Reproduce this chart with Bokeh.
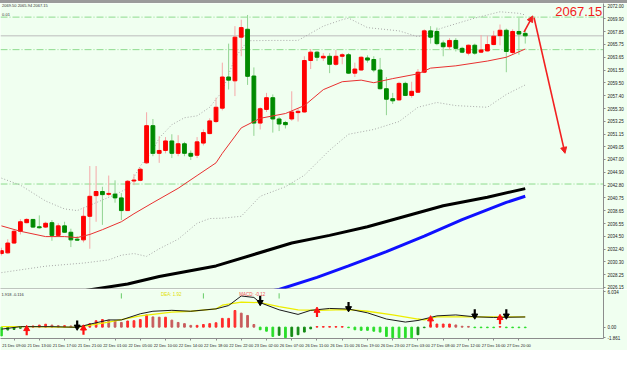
from bokeh.plotting import figure
from bokeh.models import (ColumnDataSource, FixedTicker, Label, Arrow, NormalHead, Span,
                          Div, Range1d, PrintfTickFormatter)
from bokeh.layouts import column
from bokeh.embed import file_html
from bokeh.resources import INLINE

# ---------------- data ----------------
opens = [2031.67, 2031.78, 2033.38, 2035.30, 2036.70, 2037.23, 2036.03, 2035.98, 2036.70, 2034.63,
         2036.18, 2035.14, 2034.01, 2033.90, 2037.74, 2041.11, 2041.78, 2041.32, 2041.36, 2040.74,
         2038.67, 2043.49, 2043.60, 2046.45, 2052.51, 2048.00, 2048.47, 2050.02, 2048.00, 2049.56,
         2048.00, 2047.69, 2049.67, 2051.22, 2053.18, 2055.36, 2060.44, 2059.82, 2066.93, 2068.22,
         2060.60, 2052.93, 2055.16, 2057.07, 2053.60, 2053.03, 2053.60, 2054.64, 2054.74, 2063.13,
         2064.49, 2063.55, 2063.82, 2062.51, 2063.82, 2064.07, 2061.07, 2061.58, 2063.55, 2063.29,
         2061.58, 2058.53, 2056.91, 2056.71, 2059.40, 2057.44, 2057.96, 2061.22, 2067.96, 2067.86,
         2065.99, 2065.37, 2066.40, 2065.11, 2064.33, 2065.62, 2064.49, 2064.69, 2065.73, 2067.18,
         2068.06, 2064.44, 2067.86, 2067.55]
highs = [2032.61, 2034.01, 2035.56, 2037.27, 2037.43, 2037.27, 2037.89, 2036.85, 2037.12, 2036.60,
         2036.85, 2035.72, 2034.52, 2039.19, 2045.93, 2045.93, 2042.56, 2044.38, 2043.60, 2041.52,
         2043.65, 2044.63, 2045.67, 2054.69, 2053.60, 2050.80, 2050.65, 2051.11, 2050.96, 2049.87,
         2048.47, 2050.65, 2051.89, 2053.71, 2057.07, 2062.78, 2065.88, 2068.73, 2069.78, 2070.55,
         2062.00, 2055.51, 2057.85, 2057.60, 2053.96, 2053.29, 2058.11, 2055.27, 2063.82, 2065.00,
         2064.69, 2064.33, 2064.33, 2064.85, 2064.33, 2064.33, 2062.78, 2063.82, 2063.97, 2063.82,
         2063.55, 2060.44, 2057.85, 2059.67, 2059.67, 2059.67, 2061.74, 2068.22, 2068.73, 2068.49,
         2066.40, 2066.77, 2066.77, 2065.37, 2065.73, 2065.88, 2067.29, 2067.18, 2067.96, 2069.00,
         2068.33, 2068.22, 2070.04, 2068.22]
lows = [2031.36, 2031.67, 2033.23, 2034.78, 2036.60, 2035.83, 2035.72, 2035.83, 2033.74, 2034.52,
        2035.05, 2032.72, 2033.74, 2033.49, 2032.45, 2036.85, 2036.34, 2041.00, 2039.96, 2037.12,
        2038.60, 2042.82, 2043.45, 2046.29, 2047.53, 2046.45, 2048.00, 2047.23, 2047.53, 2047.53,
        2046.91, 2047.23, 2049.29, 2051.11, 2052.93, 2055.00, 2058.40, 2057.33, 2063.82, 2059.15,
        2050.85, 2051.89, 2054.74, 2051.38, 2051.63, 2052.05, 2053.29, 2053.18, 2054.64, 2061.74,
        2063.04, 2063.04, 2061.07, 2062.26, 2062.51, 2060.96, 2060.44, 2061.49, 2062.78, 2061.22,
        2058.40, 2054.22, 2056.04, 2056.56, 2057.33, 2057.07, 2057.85, 2061.07, 2065.88, 2065.62,
        2063.82, 2064.85, 2064.60, 2064.33, 2063.97, 2064.07, 2064.33, 2064.60, 2065.62, 2065.62,
        2061.22, 2064.18, 2064.07, 2065.89]
closes = [2032.14, 2033.38, 2035.30, 2036.85, 2037.23, 2035.98, 2035.87, 2036.60, 2034.63, 2036.18,
          2035.14, 2033.90, 2033.85, 2037.74, 2041.00, 2041.78, 2041.27, 2041.47, 2040.74, 2038.67,
          2043.45, 2043.65, 2045.41, 2052.51, 2048.00, 2048.47, 2050.02, 2048.00, 2049.56, 2048.00,
          2047.53, 2049.87, 2051.38, 2053.29, 2055.51, 2060.44, 2059.93, 2066.93, 2068.49, 2060.55,
          2052.93, 2055.27, 2057.07, 2053.60, 2052.78, 2052.67, 2054.74, 2054.85, 2063.13, 2064.49,
          2063.66, 2063.82, 2062.51, 2063.82, 2064.07, 2061.07, 2061.74, 2063.66, 2063.20, 2061.58,
          2058.53, 2056.82, 2056.56, 2059.40, 2057.44, 2058.11, 2061.22, 2067.96, 2066.93, 2065.88,
          2065.37, 2066.40, 2065.11, 2064.49, 2065.62, 2064.33, 2064.85, 2065.73, 2067.09, 2068.06,
          2064.60, 2067.86, 2067.44, 2067.15]

# Bollinger middle (thin red), upper / lower (dotted)
mid_idx = [0, 3, 7, 10, 12, 14, 16, 19, 21, 24, 28, 31, 34, 35, 38, 41, 45, 48, 51, 54, 57, 59, 62,
           66, 68, 72, 77, 80, 83]
mid_val = [2036.18, 2035.30, 2034.43, 2034.43, 2034.27, 2034.78, 2035.56, 2036.85, 2038.16, 2039.96,
           2042.30, 2044.38, 2046.45, 2048.00, 2052.15, 2053.71, 2054.49, 2055.78, 2058.38, 2059.67,
           2059.93, 2059.51, 2060.18, 2060.96, 2061.89, 2062.26, 2063.04, 2063.66, 2065.00]
up_idx = [0, 3, 7, 10, 12, 15, 18, 20, 22, 24, 25, 27, 29, 31, 33, 35, 37, 39, 43, 47, 51, 54, 55,
          58, 63, 66, 70, 75, 79, 82, 83]
up_val = [2043.96, 2042.82, 2040.23, 2038.94, 2038.67, 2039.96, 2041.27, 2042.30, 2045.93, 2048.50,
          2050.50, 2052.67, 2053.80, 2054.11, 2055.51, 2058.11, 2063.55, 2066.35, 2066.40, 2066.40,
          2068.73, 2069.78, 2070.04, 2068.49, 2067.96, 2067.00, 2068.49, 2070.04, 2071.07, 2070.82,
          2070.55]
lo_idx = [0, 7, 13, 17, 19, 21, 23, 25, 28, 31, 33, 35, 38, 41, 45, 48, 52, 55, 59, 63, 66, 69, 72,
          77, 80, 83]
lo_val = [2028.56, 2029.61, 2030.12, 2030.63, 2031.41, 2031.67, 2031.21, 2032.45, 2034.01, 2036.60,
          2037.38, 2037.43, 2037.74, 2041.00, 2042.56, 2044.43, 2048.52, 2051.11, 2051.89, 2053.18,
          2055.51, 2056.29, 2055.78, 2055.51, 2057.60, 2059.15]
# slow moving averages (thick black, thick blue)
bk_idx = [13, 20, 25, 34, 40, 46, 52, 58, 64, 70, 77, 83]
bk_val = [2025.60, 2026.70, 2027.94, 2029.65, 2031.52, 2033.39, 2034.63, 2036.03, 2037.74, 2039.45,
          2040.85, 2042.25]
bl_idx = [42, 44, 50, 55, 61, 67, 73, 80, 83]
bl_val = [2025.45, 2025.81, 2027.79, 2029.65, 2031.98, 2034.50, 2037.20, 2040.00, 2041.00]

# horizontal levels
last_price = 2067.15
level_lines = [2070.20, 2064.90, 2043.00]
price_ticks = [2072.00, 2069.90, 2067.85, 2065.75, 2063.65, 2061.55, 2059.50, 2057.40, 2055.30,
               2053.25, 2051.15, 2049.05, 2047.00, 2044.90, 2042.80, 2040.75, 2038.65, 2036.55,
               2034.50, 2032.40, 2030.30, 2028.25, 2026.15]

# hand-drawn red arrows (bar index / price)
arr_x0 = [82.8, 84.4]
arr_y0 = [2067.75, 2070.10]
arr_x1 = [84.2, 89.3]
arr_y1 = [2070.40, 2048.00]

# MACD panel
hist = [-1.5, -0.5, -0.4, -0.2, 0.1, 0.2, 0.35, 0.5, 0.35, 0.25, 0.25, 0.2, 0.1, 0.2, 0.6, 1.1, 1.3,
        1.2, 1.1, 0.8, 1.05, 1.1, 1.3, 2.1, 1.75, 1.7, 1.7, 1.2, 0.8, 0.6, 0.3, 0.3, 0.45, 0.6, 0.75,
        1.5, 1.5, 2.85, 2.4, 2.0, 0.45, -0.45, -0.7, -1.6, -1.4, -1.8, -1.6, -1.3, -0.85, -0.3, 0.1,
        0.1, 0.1, 0.1, 0.1, -0.1, -0.45, -0.55, -0.55, -0.7, -0.85, -1.6, -1.8, -1.8, -1.8, -1.8,
        -1.3, -0.1, 0.37, 0.53, 0.53, 0.53, 0.37, 0.15, 0.12, -0.1, -0.1, -0.1, -0.1, 0.1, -0.1,
        -0.1, -0.1, -0.1]
mk_idx = [0, 3, 8, 12, 14, 17, 19, 22, 24, 27, 30, 34, 36, 38, 40, 41, 44, 47, 49, 52, 55, 58, 61,
          64, 66, 68, 69, 72, 75, 78, 83]
mk_val = [-0.35, 0.08, 0.08, -0.03, 0.5, 1.23, 1.23, 2.29, 2.72, 2.88, 2.72, 3.13, 3.7, 5.34, 5.09,
          4.19, 2.97, 2.18, 2.88, 3.2, 3.1, 2.45, 1.39, 0.87, 1.14, 1.66, 1.93, 2.09, 1.77, 1.66, 1.74]
sg_idx = [0, 5, 12, 17, 22, 27, 30, 34, 35, 38, 41, 44, 47, 50, 53, 55, 58, 62, 66, 67, 69, 75, 83]
sg_val = [0.08, 0.08, -0.03, 0.87, 1.93, 2.56, 2.72, 3.13, 3.76, 4.30, 4.19, 3.50, 2.97, 2.88, 2.97,
          3.0, 2.72, 2.09, 1.39, 1.23, 1.77, 1.77, 1.77]
buy_idx = [4, 13, 50, 68, 79]
buy_val = [0.1, 0.2, 3.24, 1.77, 2.0]
sell_idx = [12, 41, 55, 75, 80]
sell_val = [-0.35, 3.87, 2.81, 1.55, 1.55]
tick_sig_idx = [19, 32, 44]
ind_ticks = [6.034, 0.0, -1.861]
ind_tick_labels = ["6.034", "0.00", "-1.861"]

time_idx = [2, 6, 10, 14, 18, 22, 26, 30, 34, 38, 42, 46, 50, 54, 58, 62, 66, 70, 74, 78, 82]
time_labels = ["21 Dec 09:00", "21 Dec 13:00", "21 Dec 17:00", "21 Dec 21:00", "22 Dec 01:00",
               "22 Dec 05:00", "22 Dec 10:00", "22 Dec 14:00", "22 Dec 18:00", "22 Dec 22:00",
               "23 Dec 02:00", "26 Dec 07:00", "26 Dec 11:00", "26 Dec 15:00", "26 Dec 19:00",
               "26 Dec 23:00", "27 Dec 03:00", "27 Dec 08:00", "27 Dec 12:00", "27 Dec 16:00",
               "27 Dec 20:00"]

# ---------------- styling ----------------
BG = "#F0FFF0"
FONT = "Liberation Sans"
AX = "#8C8C8C"
W = 627

n = len(closes)
bull = [c >= o for o, c in zip(opens, closes)]
cs = ColumnDataSource(dict(
    x=list(range(n)), high=highs, low=lows,
    top=[max(o, c) for o, c in zip(opens, closes)],
    bottom=[min(o, c) for o, c in zip(opens, closes)],
    body=["#FF0000" if b else "#008A00" for b in bull],
    wick=["#F5A8A8" if b else "#92D492" for b in bull],
))

xr = Range1d(-0.15, 95.4)
main = figure(width=W, height=286, x_range=xr, y_range=Range1d(2025.81, 2072.42),
              output_backend="svg", toolbar_location=None, y_axis_location="right",
              background_fill_color=BG, border_fill_color=BG, outline_line_color=None,
              min_border_left=0, min_border_right=24, min_border_top=0, min_border_bottom=0)
main.grid.visible = False

ya = main.yaxis[0]
ya.ticker = FixedTicker(ticks=price_ticks)
ya.formatter = PrintfTickFormatter(format="%.2f")
ya.major_label_text_font_size = "4.5px"
ya.major_label_text_font = FONT
ya.major_label_text_color = "#222222"
ya.axis_line_color = AX
ya.major_tick_line_color = AX
ya.major_tick_in = 0
ya.major_tick_out = 2
ya.minor_tick_line_color = None
ya.major_label_standoff = 2

xa = main.xaxis[0]
xa.ticker = FixedTicker(ticks=[])
xa.axis_line_color = AX
xa.axis_line_width = 2
xa.major_tick_line_color = None
xa.minor_tick_line_color = None
xa.major_label_standoff = 0

for lv in level_lines:
    main.add_layout(Span(location=lv, dimension="width", line_color="#8EDB8E",
                         line_dash="7 2 1 2", line_width=1, level="underlay"))
main.add_layout(Span(location=last_price, dimension="width", line_color="#BDBDBD",
                     line_width=1, level="underlay"))

main.line(up_idx, up_val, line_color="#A8A8A8", line_dash="1 2", line_width=1)
main.line(lo_idx, lo_val, line_color="#A8A8A8", line_dash="1 2", line_width=1)
main.line(bk_idx, bk_val, line_color="#000000", line_width=3)
main.line(bl_idx, bl_val, line_color="#1010FF", line_width=3)

main.segment(x0="x", y0="low", x1="x", y1="high", color="wick", line_width=1, source=cs)
main.vbar(x="x", width=0.6, top="top", bottom="bottom", fill_color="body",
          line_color="body", line_width=1, source=cs)
main.line(mid_idx, mid_val, line_color="#E83030", line_width=1)

for x0, y0, x1, y1 in zip(arr_x0, arr_y0, arr_x1, arr_y1):
    main.add_layout(Arrow(end=NormalHead(size=6, fill_color="#F22020", line_color="#F22020"),
                          x_start=x0, y_start=y0, x_end=x1, y_end=y1,
                          line_color="#F22020", line_width=1.6))

main.add_layout(Label(x=95.2, y=2071.07, text=f"{last_price:.2f}", text_font=FONT,
                      text_font_size="13px", text_color="#F21C1C", text_align="right",
                      text_baseline="middle"))
main.add_layout(Label(x=95.4, y=last_price, text=f"{last_price:.2f}", text_font=FONT,
                      text_font_size="4.5px", text_color="#FFFFFF", text_align="left",
                      text_baseline="middle", background_fill_color="#000000", x_offset=1))
main.add_layout(Label(x=0.1, y=2072.1, text="2069.50 2065.94 2067.15", text_font=FONT,
                      text_font_size="4px", text_color="#333333", text_baseline="middle"))
main.add_layout(Label(x=0.1, y=2070.55, text="0.01", text_font=FONT,
                      text_font_size="4px", text_color="#333333", text_baseline="middle"))

# ---------------- MACD panel ----------------
ind = figure(width=W, height=61, x_range=xr, y_range=Range1d(-1.95, 6.45),
             output_backend="svg", toolbar_location=None, y_axis_location="right",
             background_fill_color=BG, border_fill_color=BG, outline_line_color=None,
             min_border_left=0, min_border_right=24, min_border_top=0, min_border_bottom=0)
ind.grid.visible = False

hcol = []
for i, v in enumerate(hist):
    prev = hist[i - 1] if i > 0 else 0.0
    if v >= 0:
        hcol.append("#FF2A2A" if v >= prev else "#C85C5C")
    else:
        hcol.append("#2ADD2A" if v <= prev else "#138A13")
ind.vbar(x=list(range(n)), width=0.28, top=hist, bottom=0, fill_color=hcol, line_color=hcol)
ind.line(sg_idx, sg_val, line_color="#EDED00", line_width=1.3)
ind.line(mk_idx, mk_val, line_color="#1A1A1A", line_width=1)

ind.segment(x0=buy_idx, y0=[v - 0.6 for v in buy_val], x1=buy_idx,
            y1=[v - 1.5 for v in buy_val], line_color="#FF1010", line_width=2.2)
ind.scatter(buy_idx, [v - 0.4 for v in buy_val], marker="triangle", size=6,
            fill_color="#FF1010", line_color="#FF1010")
ind.segment(x0=sell_idx, y0=[v + 0.6 for v in sell_val], x1=sell_idx,
            y1=[v + 1.5 for v in sell_val], line_color="#000000", line_width=2.2)
ind.scatter(sell_idx, [v + 0.4 for v in sell_val], marker="inverted_triangle", size=6,
            fill_color="#000000", line_color="#000000")
ind.segment(x0=tick_sig_idx, y0=[5.8] * len(tick_sig_idx), x1=tick_sig_idx,
            y1=[4.9] * len(tick_sig_idx), line_color="#66CC66", line_width=1)

ind.add_layout(Label(x=0.0, y=5.6, text="1.918 -0.116", text_font=FONT, text_font_size="4px",
                     text_color="#333333", text_baseline="middle"))
ind.add_layout(Label(x=25.3, y=5.6, text="DEA:  1.92", text_font=FONT, text_font_size="4.5px",
                     text_color="#E0E000", text_baseline="middle"))
ind.add_layout(Label(x=37.7, y=5.6, text="MACD:  -0.12", text_font=FONT, text_font_size="4.5px",
                     text_color="#F05050", text_baseline="middle"))

iy = ind.yaxis[0]
iy.ticker = FixedTicker(ticks=ind_ticks)
iy.major_label_overrides = dict(zip(ind_ticks, ind_tick_labels))
iy.major_label_text_font_size = "4.5px"
iy.major_label_text_font = FONT
iy.major_label_text_color = "#222222"
iy.axis_line_color = AX
iy.major_tick_line_color = AX
iy.major_tick_in = 0
iy.major_tick_out = 2
iy.minor_tick_line_color = None
iy.major_label_standoff = 2

ix = ind.xaxis[0]
ix.ticker = FixedTicker(ticks=time_idx)
ix.major_label_overrides = dict(zip(time_idx, time_labels))
ix.major_label_text_font_size = "4px"
ix.major_label_text_font = FONT
ix.major_label_text_color = "#222222"
ix.major_label_text_align = "left"
ix.axis_line_color = AX
ix.major_tick_line_color = AX
ix.major_tick_in = 0
ix.major_tick_out = 2
ix.minor_tick_line_color = None
ix.major_label_standoff = 2

top_bar = Div(text="", width=W, height=3, margin=(0, 0, 0, 0),
              styles={"background-color": "#9B9B9B"})

p = column(top_bar, main, ind, spacing=0)
open("out.html", "w").write(file_html(p, INLINE))
